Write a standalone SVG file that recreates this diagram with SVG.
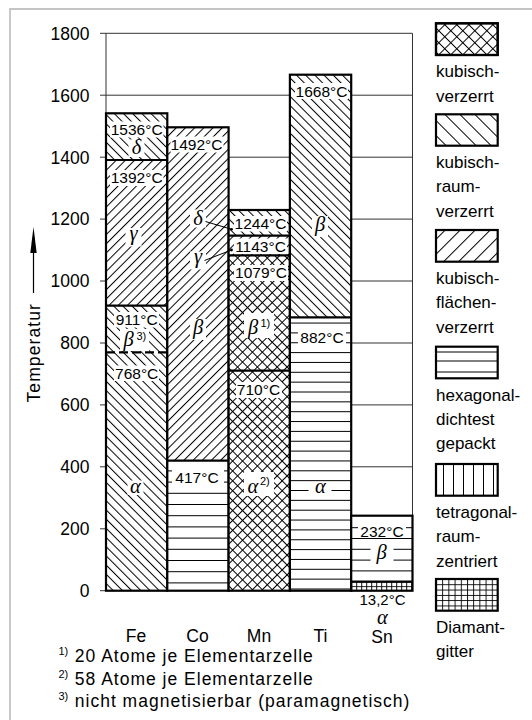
<svg xmlns="http://www.w3.org/2000/svg" width="532" height="720" viewBox="0 0 532 720">
<style>
.t{font-family:"Liberation Sans",Arial,sans-serif;fill:#000}
.ax{font-size:17.5px;text-anchor:end}
.xl{font-size:17.5px;text-anchor:middle}
.lb{font-size:15.5px;text-anchor:middle}
.gk{font-family:"Liberation Serif","Times New Roman",serif;font-style:italic;font-size:20.5px;text-anchor:middle;fill:#000}
.sup{font-size:11px}
.lg{font-size:17px}
.fn{font-size:17.5px;letter-spacing:1px}
.grid{stroke:#333;stroke-width:1;fill:none}
.bar{fill:none;stroke:#000;stroke-width:2.2}
.bd{stroke:#000;stroke-width:2.2;fill:none}
.hx{stroke:#000;stroke-width:1;fill:none}
.wb{fill:#fff}
.box{stroke:#000;stroke-width:2.2}
</style>
<defs>
<pattern id="hB" width="6.5" height="10" patternUnits="userSpaceOnUse" patternTransform="rotate(-45)"><line x1="0.5" y1="0" x2="0.5" y2="10" stroke="#000" stroke-width="1"/></pattern>
<pattern id="hF" width="6.5" height="10" patternUnits="userSpaceOnUse" patternTransform="rotate(45)"><line x1="0.5" y1="0" x2="0.5" y2="10" stroke="#000" stroke-width="1"/></pattern>
<pattern id="hX" width="7" height="7" patternUnits="userSpaceOnUse" patternTransform="rotate(45)"><path d="M0.5,0V7M0,0.5H7" stroke="#000" stroke-width="1" fill="none"/></pattern>
<pattern id="hG" width="5" height="4.5" patternUnits="userSpaceOnUse" x="351.2" y="581.7"><path d="M0.5,0V4.5M0,0.5H5" stroke="#000" stroke-width="0.9" fill="none"/></pattern>
<pattern id="lB" width="10.6" height="10" patternUnits="userSpaceOnUse" patternTransform="rotate(-45)"><line x1="0.5" y1="0" x2="0.5" y2="10" stroke="#000" stroke-width="1"/></pattern>
<pattern id="lF" width="10.6" height="10" patternUnits="userSpaceOnUse" patternTransform="rotate(45)"><line x1="0.5" y1="0" x2="0.5" y2="10" stroke="#000" stroke-width="1"/></pattern>
<pattern id="lX" width="8.5" height="8.5" patternUnits="userSpaceOnUse" patternTransform="rotate(45)"><path d="M0.5,0V8.5M0,0.5H8.5" stroke="#000" stroke-width="1" fill="none"/></pattern>
<pattern id="lG" width="6.2" height="5.3" patternUnits="userSpaceOnUse" x="436" y="579"><path d="M0.5,0V5.3M0,0.5H6.2" stroke="#000" stroke-width="0.9" fill="none"/></pattern>
</defs>

<path d="M10,720V9H532" fill="none" stroke="#c4c4c4" stroke-width="1.8"/>

<g id="axes">
<path class="grid" d="M100,33.3H412.5M100,95.2H412.5M100,157.2H412.5M100,219.1H412.5M100,281H412.5M100,343H412.5M100,404.9H412.5M100,466.8H412.5M100,528.8H412.5M100,590.7H412.5M106,33.3V590.7M412.5,33.3V590.7"/>
<g class="t ax">
<text x="89.5" y="39.6">1800</text>
<text x="89.5" y="101.5">1600</text>
<text x="89.5" y="163.5">1400</text>
<text x="89.5" y="225.4">1200</text>
<text x="89.5" y="287.3">1000</text>
<text x="89.5" y="349.3">800</text>
<text x="89.5" y="411.2">600</text>
<text x="89.5" y="473.1">400</text>
<text x="89.5" y="535.1">200</text>
<text x="89.5" y="597">0</text>
</g>
<text class="t" font-size="17.5" letter-spacing="1.1" text-anchor="end" transform="translate(40,303) rotate(-90)">Temperatur</text>
<line x1="33.5" y1="293" x2="33.5" y2="250" stroke="#000" stroke-width="1.2"/>
<polygon points="33.5,227 30.3,253 36.7,253" fill="#000"/>
<g class="t xl">
<text x="136" y="642">Fe</text>
<text x="197.5" y="642">Co</text>
<text x="259" y="642">Mn</text>
<text x="320.5" y="642">Ti</text>
<text x="382" y="642.5">Sn</text>
</g>
</g>

<g id="bar-Fe">
<rect x="106" y="113.3" width="61.3" height="477.4" fill="#fff"/>
<rect x="106" y="113.3" width="61.3" height="46.7" fill="url(#hB)"/>
<rect x="106" y="160" width="61.3" height="145.7" fill="url(#hF)"/>
<rect x="106" y="305.7" width="61.3" height="285" fill="url(#hB)"/>
<rect class="wb" x="110" y="121.5" width="53.5" height="16"/>
<rect class="wb" x="128.5" y="139.5" width="16" height="17.5"/>
<rect class="wb" x="110" y="170" width="53.5" height="16"/>
<rect class="wb" x="125.5" y="228" width="16" height="18.5"/>
<rect class="wb" x="114" y="312" width="45" height="15.5"/>
<rect class="wb" x="120" y="329" width="29" height="22"/>
<rect class="wb" x="114" y="365.5" width="45" height="15.5"/>
<rect class="wb" x="127.5" y="480.5" width="16" height="14.5"/>
<g class="t lb">
<text x="136.7" y="135">1536°C</text>
<text x="136.7" y="183.3">1392°C</text>
<text x="136.7" y="325">911°C</text>
<text x="136.7" y="378.5">768°C</text>
</g>
<text class="gk" x="136.5" y="154">δ</text>
<text class="gk" x="133.5" y="240">γ</text>
<text class="gk" x="128.5" y="346">β</text>
<text class="t sup" x="136.5" y="339.5">3)</text>
<text class="gk" x="135.5" y="492.5">α</text>
<path class="bd" d="M106,160H167.3M106,305.7H167.3"/>
<path class="bd" d="M106,352.3H167.3" stroke-dasharray="9 4"/>
<rect class="bar" x="106" y="113.3" width="61.3" height="477.4"/>
</g>

<g id="bar-Co">
<rect x="167.3" y="127.3" width="61.3" height="463.4" fill="#fff"/>
<rect x="167.3" y="127.3" width="61.3" height="333.4" fill="url(#hF)"/>
<path class="hx" d="M167.3,470.9H228.6M167.3,482.1H228.6M167.3,493.3H228.6M167.3,504.5H228.6M167.3,515.7H228.6M167.3,526.9H228.6M167.3,538.1H228.6M167.3,549.3H228.6M167.3,560.5H228.6M167.3,571.7H228.6M167.3,582.9H228.6"/>
<rect class="wb" x="170.5" y="136.5" width="53" height="16"/>
<rect class="wb" x="190" y="209.5" width="16" height="18"/>
<rect class="wb" x="190" y="251.5" width="16" height="18"/>
<rect class="wb" x="190" y="319" width="16" height="21"/>
<rect class="wb" x="172" y="467" width="52" height="20"/>
<g class="t lb">
<text x="196.5" y="150">1492°C</text>
<text x="197" y="483.3">417°C</text>
</g>
<text class="gk" x="198" y="334">β</text>
<path class="bd" d="M167.3,460.7H228.6"/>
<rect class="bar" x="167.3" y="127.3" width="61.3" height="463.4"/>
</g>

<g id="bar-Mn">
<rect x="228.6" y="210" width="61.3" height="380.7" fill="#fff"/>
<rect x="228.6" y="210" width="61.3" height="25.7" fill="url(#hB)"/>
<rect x="228.6" y="235.7" width="61.3" height="19.6" fill="url(#hF)"/>
<rect x="228.6" y="255.3" width="61.3" height="335.4" fill="url(#hX)"/>
<rect class="wb" x="234" y="216" width="53" height="15.5"/>
<rect class="wb" x="234" y="238.5" width="53" height="15.5"/>
<rect class="wb" x="234" y="265" width="54" height="16"/>
<rect class="wb" x="244" y="313" width="30" height="25"/>
<rect class="wb" x="236" y="382" width="46" height="16"/>
<rect class="wb" x="244" y="472" width="30" height="24"/>
<g class="t lb">
<text x="260.5" y="229.3">1244°C</text>
<text x="260.5" y="251.5">1143°C</text>
<text x="261" y="278.3">1079°C</text>
<text x="258.5" y="395">710°C</text>
</g>
<text class="gk" x="253" y="334">β</text>
<text class="t sup" x="260.5" y="327">1)</text>
<text class="gk" x="253" y="492.5">α</text>
<text class="t sup" x="260" y="485">2)</text>
<path class="bd" d="M228.6,235.7H289.9M228.6,255.3H289.9M228.6,370.7H289.9"/>
<rect class="bar" x="228.6" y="210" width="61.3" height="380.7"/>
</g>

<g id="bar-Ti">
<rect x="289.9" y="74.7" width="61.3" height="516" fill="#fff"/>
<rect x="289.9" y="74.7" width="61.3" height="242.6" fill="url(#hB)"/>
<path class="hx" d="M289.9,589H351.2M289.9,579.15H351.2M289.9,569.3H351.2M289.9,559.45H351.2M289.9,549.6H351.2M289.9,539.75H351.2M289.9,529.9H351.2M289.9,520.05H351.2M289.9,510.2H351.2M289.9,500.35H351.2M289.9,490.5H351.2M289.9,480.65H351.2M289.9,470.8H351.2M289.9,460.95H351.2M289.9,451.1H351.2M289.9,441.25H351.2M289.9,431.4H351.2M289.9,421.55H351.2M289.9,411.7H351.2M289.9,401.85H351.2M289.9,392H351.2M289.9,382.15H351.2M289.9,372.3H351.2M289.9,362.45H351.2M289.9,352.6H351.2M289.9,342.75H351.2M289.9,332.9H351.2M289.9,323.05H351.2"/>
<rect class="wb" x="295" y="83" width="53" height="16"/>
<rect class="wb" x="312" y="216" width="16" height="21"/>
<rect class="wb" x="298" y="330" width="48" height="16.5"/>
<rect class="wb" x="308.5" y="482" width="23" height="13"/>
<g class="t lb">
<text x="321.5" y="96.7">1668°C</text>
<text x="322" y="343.3">882°C</text>
</g>
<text class="gk" x="320" y="231">β</text>
<text class="gk" x="320.5" y="492.5">α</text>
<path class="bd" d="M289.9,317.3H351.2"/>
<rect class="bar" x="289.9" y="74.7" width="61.3" height="516"/>
</g>

<g id="bar-Sn">
<rect x="351.2" y="515.7" width="61.3" height="75" fill="#fff"/>
<path class="hx" d="M351.2,527.7H412.5M351.2,538.5H412.5M351.2,549.3H412.5M351.2,560.1H412.5M351.2,570.9H412.5"/>
<rect x="351.2" y="581.7" width="61.3" height="9" fill="url(#hG)"/>
<rect class="wb" x="358" y="523.5" width="48" height="14"/>
<rect class="wb" x="370.5" y="544.5" width="23" height="19.5"/>
<text class="t lb" x="382" y="536.5">232°C</text>
<text class="gk" x="381.7" y="559">β</text>
<path class="bd" d="M351.2,581.7H412.5"/>
<rect class="bar" x="351.2" y="515.7" width="61.3" height="75"/>
<text class="t" font-size="15" text-anchor="middle" x="382.5" y="604.5">13,2°C</text>
<text class="gk" x="382.5" y="623.5" font-size="13.5">α</text>
</g>

<g id="connectors">
<text class="gk" x="198" y="224.5">δ</text>
<text class="gk" x="198" y="263">γ</text>
<line x1="205.5" y1="221.5" x2="231.5" y2="229.3" stroke="#000" stroke-width="1"/>
<line x1="204.5" y1="260.5" x2="231.5" y2="250" stroke="#000" stroke-width="1"/>
<circle cx="231.5" cy="229.3" r="1.4" fill="#000"/>
<circle cx="231.5" cy="250" r="1.4" fill="#000"/>
</g>

<g id="legend">
<g id="leg-kubisch-verzerrt">
<rect class="box" x="436" y="23.3" width="61.7" height="31.7" fill="#fff"/>
<rect x="436" y="23.3" width="61.7" height="31.7" fill="url(#lX)"/>
<rect class="box" x="436" y="23.3" width="61.7" height="31.7" fill="none"/>
<text class="t lg" x="436" y="77.3">kubisch-</text>
<text class="t lg" x="436" y="101.5">verzerrt</text>
</g>
<g id="leg-kubisch-raum">
<rect x="436" y="114.3" width="61.7" height="31.4" fill="#fff"/>
<rect x="436" y="114.3" width="61.7" height="31.4" fill="url(#lB)"/>
<rect class="box" x="436" y="114.3" width="61.7" height="31.4" fill="none"/>
<text class="t lg" x="436" y="168.3">kubisch-</text>
<text class="t lg" x="436" y="192.4">raum-</text>
<text class="t lg" x="436" y="216.6">verzerrt</text>
</g>
<g id="leg-kubisch-flaechen">
<rect x="436" y="230" width="61.7" height="31.7" fill="#fff"/>
<rect x="436" y="230" width="61.7" height="31.7" fill="url(#lF)"/>
<rect class="box" x="436" y="230" width="61.7" height="31.7" fill="none"/>
<text class="t lg" x="436" y="284.3">kubisch-</text>
<text class="t lg" x="436" y="308.4">flächen-</text>
<text class="t lg" x="436" y="332.6">verzerrt</text>
</g>
<g id="leg-hexagonal">
<rect class="box" x="436" y="346.7" width="61.7" height="31.6" fill="#fff"/>
<path class="hx" d="M436,352H497.7M436,361H497.7M436,372H497.7"/>
<text class="t lg" x="436" y="401">hexagonal-</text>
<text class="t lg" x="436" y="425.1">dichtest</text>
<text class="t lg" x="436" y="449.3">gepackt</text>
</g>
<g id="leg-tetragonal">
<rect class="box" x="436" y="464" width="61.7" height="31.7" fill="#fff"/>
<path class="hx" d="M443.5,464V495.7M453.5,464V495.7M463.5,464V495.7M473.5,464V495.7M483.5,464V495.7M493.5,464V495.7"/>
<text class="t lg" x="436" y="518.3">tetragonal-</text>
<text class="t lg" x="436" y="542.4">raum-</text>
<text class="t lg" x="436" y="566.6">zentriert</text>
</g>
<g id="leg-diamant">
<rect x="436" y="579" width="61.7" height="31.7" fill="#fff"/>
<rect x="436" y="579" width="61.7" height="31.7" fill="url(#lG)"/>
<rect class="box" x="436" y="579" width="61.7" height="31.7" fill="none"/>
<text class="t lg" x="436" y="633.3">Diamant-</text>
<text class="t lg" x="436" y="657.4">gitter</text>
</g>
</g>

<g id="footnotes">
<text class="t sup" x="58.5" y="655">1)</text>
<text class="t fn" x="74.8" y="662">20 Atome je Elementarzelle</text>
<text class="t sup" x="58.5" y="678">2)</text>
<text class="t fn" x="74.8" y="685">58 Atome je Elementarzelle</text>
<text class="t sup" x="58.5" y="700">3)</text>
<text class="t fn" x="74.8" y="707">nicht magnetisierbar (paramagnetisch)</text>
</g>
</svg>
